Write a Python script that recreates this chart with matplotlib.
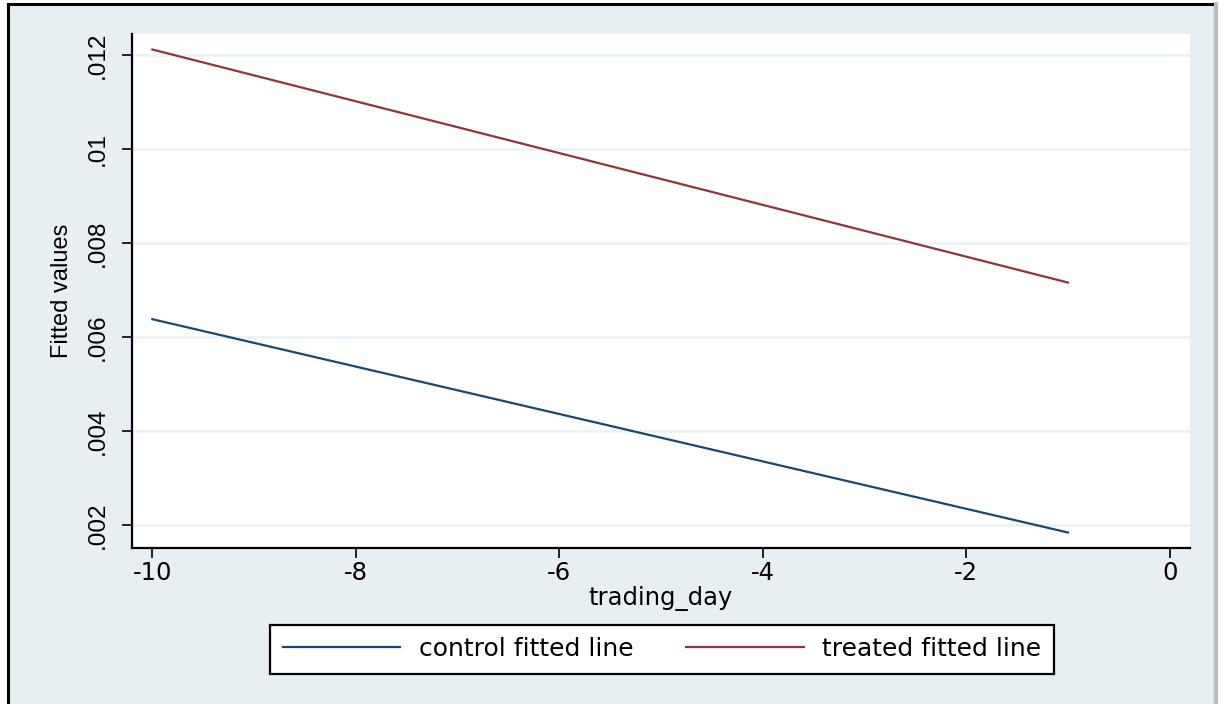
import matplotlib.pyplot as plt
from matplotlib.patches import Rectangle
from matplotlib.lines import Line2D

plt.rcParams['font.family'] = ['DejaVu Sans']

# Endpunkte der angepassten Geraden
trading_day = [-10, -1]
control_fitted = [0.00638, 0.00184]
treated_fitted = [0.01212, 0.00716]

x_ticks = [-10, -8, -6, -4, -2, 0]
y_ticks = [0.002, 0.004, 0.006, 0.008, 0.010, 0.012]
y_tick_labels = ['.002', '.004', '.006', '.008', '.01', '.012']

BG = '#e8eff3'
CONTROL_COLOR = '#1a476f'
TREATED_COLOR = '#90353b'
FS = 17.5

fig = plt.figure(figsize=(12.24, 7.04), dpi=100, facecolor='white')

# Stata-typischer Hintergrund mit Rahmen
frame = Rectangle((8 / 1224, -0.02), 1207 / 1224, 1.02 - 4 / 704,
                  transform=fig.transFigure, facecolor=BG,
                  edgecolor='black', linewidth=2.2, zorder=-5)
fig.patches.append(frame)
fig.add_artist(Line2D([1216 / 1224, 1216 / 1224], [0, 1 - 4 / 704],
                      transform=fig.transFigure, color='#b8c0c4', linewidth=3,
                      zorder=-4))

ax = fig.add_axes([132 / 1224, 1 - 548 / 704, (1190 - 132) / 1224, (548 - 34) / 704])
ax.set_facecolor('white')

ax.plot(trading_day, control_fitted, color=CONTROL_COLOR, linewidth=1.6,
        label='control fitted line')
ax.plot(trading_day, treated_fitted, color=TREATED_COLOR, linewidth=1.6,
        label='treated fitted line')

ax.set_xlim(-10.2, 0.2)
ax.set_ylim(0.00151, 0.01245)

ax.set_xticks(x_ticks)
ax.set_xticklabels([str(t) for t in x_ticks], fontsize=FS)
ax.set_yticks(y_ticks)
ax.set_yticklabels(y_tick_labels, fontsize=17.5, rotation=90, va='center',
                   family='Liberation Sans')
ax.tick_params(axis='both', length=7, width=1.2, color='black')
ax.tick_params(axis='x', pad=2)
ax.tick_params(axis='y', pad=10)

ax.grid(True, axis='y', color='#edf3f5', linewidth=2)
ax.set_axisbelow(True)

for side in ['top', 'right']:
    ax.spines[side].set_visible(False)
for side in ['left', 'bottom']:
    ax.spines[side].set_linewidth(1.6)
    ax.spines[side].set_color('black')

ax.set_xlabel('trading_day', fontsize=FS, labelpad=1)
ax.set_ylabel('Fitted values', fontsize=17, labelpad=10, family='Liberation Sans')

leg = fig.legend(loc='center', bbox_to_anchor=(662 / 1224, 1 - 649 / 704),
                 ncol=2, fontsize=18, handlelength=4.7, handletextpad=0.75,
                 columnspacing=2.1, borderpad=0.5, fancybox=False,
                 framealpha=1, edgecolor='black', facecolor='white')
leg.get_frame().set_linewidth(1.6)

fig.savefig('out.png', dpi=100, facecolor=fig.get_facecolor())
